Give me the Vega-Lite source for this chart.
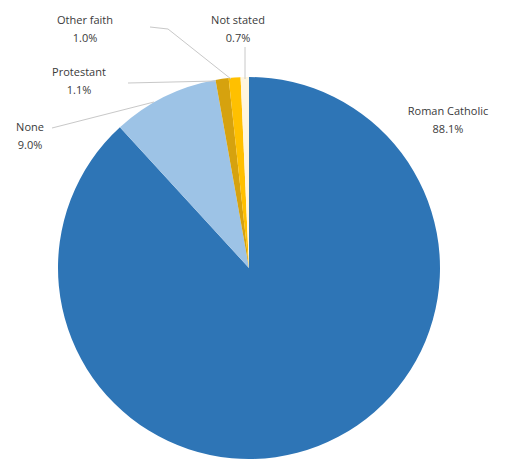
{
  "$schema": "https://vega.github.io/schema/vega-lite/v6.json",
  "width": 514,
  "height": 460,
  "autosize": {"type": "fit", "contains": "padding"},
  "padding": 0,
  "background": "white",
  "config": {"view": {"stroke": null}, "text": {"font": "Open Sans"}},
  "datasets": {
    "religion": [
      {"religion": "Roman Catholic", "share": 88.1, "idx": 1},
      {"religion": "None", "share": 9.0, "idx": 2},
      {"religion": "Protestant", "share": 1.1, "idx": 3},
      {"religion": "Other faith", "share": 1.0, "idx": 4},
      {"religion": "Not stated", "share": 0.7, "idx": 5}
    ],
    "labels": [
      {"label": "Roman Catholic", "pct": "88.1%", "lx": 199, "ly": 156},
      {"label": "None", "pct": "9.0%", "lx": -219, "ly": 140},
      {"label": "Protestant", "pct": "1.1%", "lx": -170, "ly": 195},
      {"label": "Other faith", "pct": "1.0%", "lx": -164, "ly": 247},
      {"label": "Not stated", "pct": "0.7%", "lx": -11, "ly": 247}
    ],
    "leaders": [
      {"seg": "None", "x1": -197, "y1": 140, "x2": -95, "y2": 166},
      {"seg": "Protestant", "x1": -121, "y1": 185, "x2": -33, "y2": 187},
      {"seg": "Other faith a", "x1": -99, "y1": 241, "x2": -81, "y2": 239},
      {"seg": "Other faith b", "x1": -81, "y1": 239, "x2": -18, "y2": 189},
      {"seg": "Not stated", "x1": -4, "y1": 221, "x2": -4, "y2": 189}
    ]
  },
  "layer": [
    {
      "data": {"name": "religion"},
      "mark": {"type": "arc", "outerRadius": 191},
      "encoding": {
        "x": {"datum": 0, "type": "quantitative", "scale": {"domain": [-249, 265], "nice": false, "zero": false}, "axis": null},
        "y": {"datum": 0, "type": "quantitative", "scale": {"domain": [-192, 268], "nice": false, "zero": false}, "axis": null},
        "theta": {"field": "share", "type": "quantitative", "stack": true},
        "order": {"field": "idx", "type": "quantitative"},
        "color": {
          "field": "religion",
          "type": "nominal",
          "legend": null,
          "scale": {
            "domain": ["Roman Catholic", "None", "Protestant", "Other faith", "Not stated"],
            "range": ["#2E75B6", "#9DC3E6", "#D6A20E", "#FFC000", "#FFF6DE"]
          }
        }
      }
    },
    {
      "data": {"name": "leaders"},
      "mark": {"type": "rule", "color": "#C8C8C8", "strokeWidth": 1},
      "encoding": {
        "x": {"field": "x1", "type": "quantitative", "axis": null},
        "y": {"field": "y1", "type": "quantitative", "axis": null},
        "x2": {"field": "x2"},
        "y2": {"field": "y2"}
      }
    },
    {
      "data": {"name": "labels"},
      "transform": [{"calculate": "datum.label + '\\n' + datum.pct", "as": "txt"}],
      "mark": {"type": "text", "fontSize": 11, "color": "#3A3A3A", "align": "center", "baseline": "middle", "lineBreak": "\n", "lineHeight": 18},
      "encoding": {
        "x": {"field": "lx", "type": "quantitative", "axis": null},
        "y": {"field": "ly", "type": "quantitative", "axis": null},
        "text": {"field": "txt"}
      }
    }
  ]
}
